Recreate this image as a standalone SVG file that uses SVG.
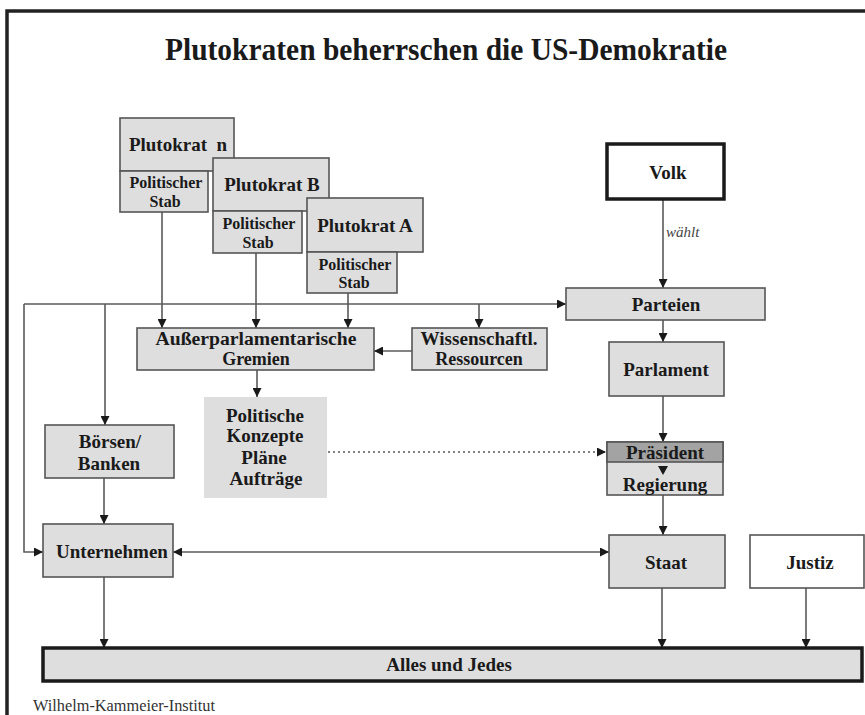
<svg xmlns="http://www.w3.org/2000/svg" width="865" height="715" viewBox="0 0 865 715">
<defs>
<marker id="ah" viewBox="0 0 10 10" refX="10" refY="5" markerWidth="9" markerHeight="9" markerUnits="userSpaceOnUse" orient="auto-start-reverse">
<path d="M0,0 L10,5 L0,10 z" fill="#1a1a1a"/>
</marker>
<style>
.box{fill:#dedede;stroke:#555;stroke-width:1.6}
.wbox{fill:#fff;stroke:#555;stroke-width:1.6}
.thick{fill:#fff;stroke:#1a1a1a;stroke-width:3.5}
.t{font-family:"Liberation Serif","Times New Roman",serif;font-weight:bold;fill:#1a1a1a;text-anchor:middle}
.l{font-size:19px}
.s{font-size:16px}
.c{stroke:#5a5a5a;stroke-width:1.6;fill:none;marker-end:url(#ah)}
</style>
</defs>
<rect width="865" height="715" fill="#fff"/>
<path d="M7,715 L7,11 L865,11" fill="none" stroke="#222" stroke-width="3.5"/>
<text x="446" y="60" class="t" font-size="31" textLength="562" lengthAdjust="spacingAndGlyphs">Plutokraten beherrschen die US-Demokratie</text>

<g id="connectors">
<path class="c" d="M162,212 L162,328"/>
<path class="c" d="M256,253 L256,328"/>
<path class="c" d="M348,293 L348,328"/>
<path class="c" d="M24,304 L566,304"/>
<path class="c" d="M24,304 L24,552 L43,552"/>
<path class="c" d="M105,304 L105,425"/>
<path class="c" d="M479,304 L479,328"/>
<path class="c" d="M412,351 L374,351"/>
<path class="c" d="M257,370 L257,397"/>
<path class="c" d="M328,452 L606,452" stroke-dasharray="2,3"/>
<path class="c" d="M104,478 L104,524"/>
<path class="c" d="M173,552 L609,552" marker-start="url(#ah)"/>
<path class="c" d="M104,577 L104,648"/>
<path class="c" d="M663,199 L663,288"/>
<path class="c" d="M663,320 L663,342"/>
<path class="c" d="M663,396 L663,442"/>
<path class="c" d="M663,495 L663,535"/>
<path class="c" d="M662,588 L662,648"/>
<path class="c" d="M806,588 L806,648"/>
</g>

<g id="plutokrat-n">
<rect class="box" x="120" y="118" width="114" height="53"/>
<text class="t l" x="178" y="151" style="white-space:pre">Plutokrat  n</text>
<rect class="box" x="120" y="171" width="88" height="41"/>
<text class="t s" x="166" y="188">Politischer</text>
<text class="t s" x="165" y="207">Stab</text>
</g>
<g id="plutokrat-b">
<rect class="box" x="213" y="158" width="116" height="53"/>
<text class="t l" x="272" y="191">Plutokrat B</text>
<rect class="box" x="213" y="211" width="89" height="42"/>
<text class="t s" x="259" y="229">Politischer</text>
<text class="t s" x="258" y="248">Stab</text>
</g>
<g id="plutokrat-a">
<rect class="box" x="307" y="198" width="116" height="54"/>
<text class="t l" x="365" y="232">Plutokrat A</text>
<rect class="box" x="307" y="252" width="90" height="41"/>
<text class="t s" x="355" y="270">Politischer</text>
<text class="t s" x="354" y="288">Stab</text>
</g>
<g id="gremien">
<rect class="box" x="137" y="328" width="237" height="42"/>
<text class="t" font-size="18" x="256" y="345" textLength="201" lengthAdjust="spacingAndGlyphs">Außerparlamentarische</text>
<text class="t" font-size="18" x="256" y="365">Gremien</text>
</g>
<g id="wissenschaft">
<rect class="box" x="412" y="328" width="135" height="42"/>
<text class="t" font-size="18" x="479" y="345" textLength="117" lengthAdjust="spacingAndGlyphs">Wissenschaftl.</text>
<text class="t" font-size="18" x="479" y="365">Ressourcen</text>
</g>
<g id="konzepte">
<rect x="204" y="397" width="123" height="101" fill="#dedede"/>
<text class="t l" x="265" y="422">Politische</text>
<text class="t l" x="265" y="442">Konzepte</text>
<text class="t l" x="264" y="464">Pläne</text>
<text class="t l" x="266" y="485">Aufträge</text>
</g>
<g id="boersen">
<rect class="box" x="45" y="425" width="129" height="53"/>
<text class="t l" x="110" y="448">Börsen/</text>
<text class="t l" x="109" y="470">Banken</text>
</g>
<g id="unternehmen">
<rect class="box" x="43" y="524" width="130" height="53"/>
<text class="t l" x="112" y="558">Unternehmen</text>
</g>
<g id="volk">
<rect class="thick" x="607" y="144" width="117" height="55"/>
<text class="t l" x="668" y="179">Volk</text>
</g>
<text x="666" y="237" font-family="Liberation Serif, serif" font-style="italic" font-size="15" fill="#444">wählt</text>
<g id="parteien">
<rect class="box" x="566" y="288" width="199" height="32"/>
<text class="t l" x="666" y="311">Parteien</text>
</g>
<g id="parlament">
<rect class="box" x="609" y="342" width="115" height="54"/>
<text class="t l" x="666" y="376">Parlament</text>
</g>
<g id="praesident">
<rect class="box" x="607" y="442" width="116" height="53"/>
<rect x="607" y="442" width="116" height="20" fill="#a3a3a3" stroke="#555" stroke-width="1.6"/>
<text class="t l" x="665" y="459">Präsident</text>
<path d="M658,466 L668,466 L663,475 z" fill="#1a1a1a"/>
<text class="t l" x="665" y="491">Regierung</text>
</g>
<g id="staat">
<rect class="box" x="609" y="535" width="116" height="53"/>
<text class="t l" x="666" y="569">Staat</text>
</g>
<g id="justiz">
<rect class="wbox" x="750" y="535" width="114" height="53"/>
<text class="t l" x="810" y="569">Justiz</text>
</g>
<g id="alles">
<rect x="43" y="648" width="819" height="33" fill="#dedede" stroke="#1a1a1a" stroke-width="3.5"/>
<text class="t l" x="449" y="671">Alles und Jedes</text>
</g>
<text x="33" y="711" font-family="Liberation Serif, serif" font-size="16" fill="#333" textLength="182" lengthAdjust="spacingAndGlyphs">Wilhelm-Kammeier-Institut</text>
</svg>
